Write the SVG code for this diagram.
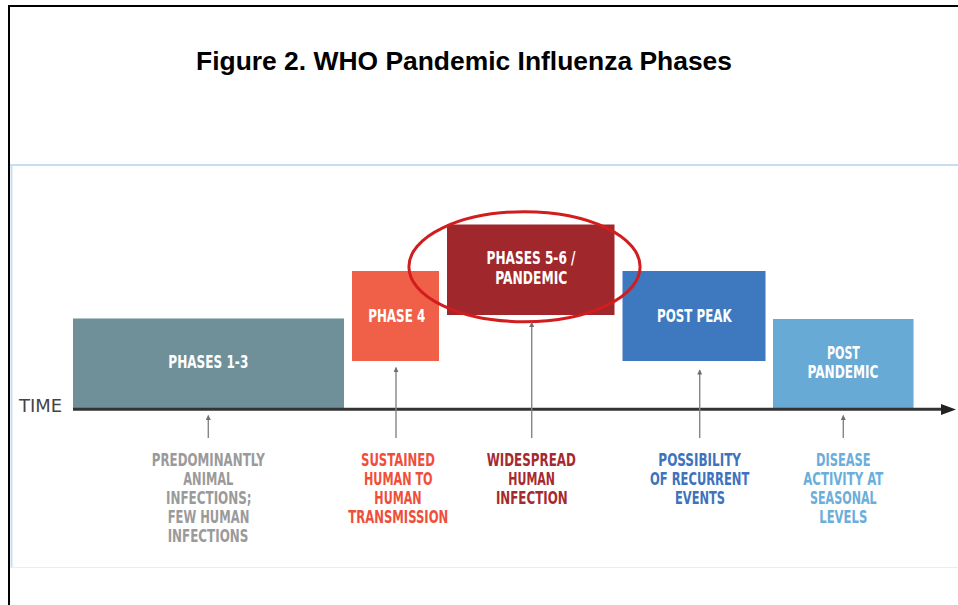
<svg xmlns="http://www.w3.org/2000/svg" width="958" height="605" viewBox="0 0 958 605">
<defs>
<style>
.lbl{font-family:"Liberation Sans Narrow","DejaVu Sans Condensed","Liberation Sans",Arial,sans-serif;font-weight:bold;fill:#fff;font-size:18.5px;text-anchor:middle}
.sub{font-family:"Liberation Sans Narrow","DejaVu Sans Condensed","Liberation Sans",Arial,sans-serif;font-weight:bold;font-size:17.5px;text-anchor:middle}
.conn{stroke:#858585;stroke-width:1.4;fill:none}
</style>
<marker id="ah" viewBox="0 0 10 10" refX="9" refY="5" markerWidth="6" markerHeight="5" markerUnits="userSpaceOnUse" orient="auto">
<path d="M0,0 L10,5 L0,10 Z" fill="#707070"/>
</marker>
</defs>
<rect x="0" y="0" width="958" height="605" fill="#fff"/>
<rect x="9" y="6" width="1000" height="700" fill="none" stroke="#000" stroke-width="2"/>
<text x="196" y="70" font-family="Liberation Sans, Arial, sans-serif" font-weight="bold" font-size="25" textLength="536" lengthAdjust="spacingAndGlyphs" fill="#000">Figure 2. WHO Pandemic Influenza Phases</text>
<g id="panel">
<line x1="10" y1="165" x2="958" y2="165" stroke="#c6def1" stroke-width="2"/>
<line x1="11.5" y1="165" x2="11.5" y2="567" stroke="#c6def1" stroke-width="2"/>
<line x1="10" y1="567.5" x2="958" y2="567.5" stroke="#e3eef7" stroke-width="1"/>
</g>
<g id="phases13">
<rect x="73" y="318.5" width="271" height="90" fill="#6f8f99"/>
<text class="lbl" x="208.3" y="367.5" textLength="80" lengthAdjust="spacingAndGlyphs">PHASES 1-3</text>
</g>
<g id="phase4">
<rect x="352" y="271" width="87" height="90" fill="#f05f48"/>
<text class="lbl" x="396.7" y="321.5" textLength="57" lengthAdjust="spacingAndGlyphs">PHASE 4</text>
</g>
<g id="phases56">
<rect x="447" y="224.5" width="167.5" height="90.5" fill="#a0282d"/>
<text class="lbl" x="531" y="264" textLength="89" lengthAdjust="spacingAndGlyphs">PHASES 5-6 /</text>
<text class="lbl" x="531.3" y="284" textLength="72" lengthAdjust="spacingAndGlyphs">PANDEMIC</text>
</g>
<g id="postpeak">
<rect x="622.5" y="271" width="143" height="90" fill="#3e78bf"/>
<text class="lbl" x="694.3" y="321.5" textLength="74.7" lengthAdjust="spacingAndGlyphs">POST PEAK</text>
</g>
<g id="postpandemic">
<rect x="773" y="319" width="140.5" height="89.5" fill="#67aad5"/>
<text class="lbl" x="843.4" y="359" textLength="33" lengthAdjust="spacingAndGlyphs">POST</text>
<text class="lbl" x="843" y="378.3" textLength="71" lengthAdjust="spacingAndGlyphs">PANDEMIC</text>
</g>
<g id="highlight">
<ellipse cx="524.5" cy="266.7" rx="115.6" ry="55" fill="none" stroke="#d21d1f" stroke-width="3"/>
</g>
<g id="timeline">
<line x1="73" y1="409.3" x2="943" y2="409.3" stroke="#333" stroke-width="3"/>
<polygon points="941,404 956,409.5 941,415" fill="#222"/>
<text x="19" y="412.3" font-family="Liberation Sans Narrow,DejaVu Sans Condensed,Liberation Sans,sans-serif" font-size="18" textLength="43" lengthAdjust="spacingAndGlyphs" fill="#444">TIME</text>
</g>
<g id="connectors">
<line class="conn" x1="208.3" y1="438" x2="208.3" y2="415.5" marker-end="url(#ah)"/>
<line class="conn" x1="396" y1="438" x2="396" y2="367.5" marker-end="url(#ah)"/>
<line class="conn" x1="531.7" y1="438" x2="531.7" y2="322.5" marker-end="url(#ah)"/>
<line class="conn" x1="699.7" y1="438" x2="699.7" y2="370" marker-end="url(#ah)"/>
<line class="conn" x1="843.3" y1="438" x2="843.3" y2="415.5" marker-end="url(#ah)"/>
</g>
<g id="desc13" fill="#9a9a9a">
<text class="sub" x="208.3" y="465.7" textLength="113" lengthAdjust="spacingAndGlyphs">PREDOMINANTLY</text>
<text class="sub" x="208.3" y="484.5" textLength="50" lengthAdjust="spacingAndGlyphs">ANIMAL</text>
<text class="sub" x="208.8" y="503.5" textLength="85.7" lengthAdjust="spacingAndGlyphs">INFECTIONS;</text>
<text class="sub" x="208.5" y="522.5" textLength="81.7" lengthAdjust="spacingAndGlyphs">FEW HUMAN</text>
<text class="sub" x="208" y="541.5" textLength="80.7" lengthAdjust="spacingAndGlyphs">INFECTIONS</text>
</g>
<g id="desc4" fill="#ef4f3a">
<text class="sub" x="398" y="465.7" textLength="74" lengthAdjust="spacingAndGlyphs">SUSTAINED</text>
<text class="sub" x="398.3" y="484.5" textLength="68.7" lengthAdjust="spacingAndGlyphs">HUMAN TO</text>
<text class="sub" x="398" y="503.5" textLength="47.3" lengthAdjust="spacingAndGlyphs">HUMAN</text>
<text class="sub" x="398.3" y="522.5" textLength="100" lengthAdjust="spacingAndGlyphs">TRANSMISSION</text>
</g>
<g id="desc56" fill="#a52a30">
<text class="sub" x="531.3" y="465.7" textLength="89.3" lengthAdjust="spacingAndGlyphs">WIDESPREAD</text>
<text class="sub" x="531.7" y="484.5" textLength="46.7" lengthAdjust="spacingAndGlyphs">HUMAN</text>
<text class="sub" x="531.8" y="503.5" textLength="71.7" lengthAdjust="spacingAndGlyphs">INFECTION</text>
</g>
<g id="descpeak" fill="#3d73bd">
<text class="sub" x="699.7" y="465.7" textLength="82.7" lengthAdjust="spacingAndGlyphs">POSSIBILITY</text>
<text class="sub" x="699.7" y="484.5" textLength="99.3" lengthAdjust="spacingAndGlyphs">OF RECURRENT</text>
<text class="sub" x="700" y="503.5" textLength="50" lengthAdjust="spacingAndGlyphs">EVENTS</text>
</g>
<g id="descpost" fill="#6aaedb">
<text class="sub" x="843.3" y="465.7" textLength="54.7" lengthAdjust="spacingAndGlyphs">DISEASE</text>
<text class="sub" x="843.3" y="484.5" textLength="80" lengthAdjust="spacingAndGlyphs">ACTIVITY AT</text>
<text class="sub" x="843.3" y="503.5" textLength="66.7" lengthAdjust="spacingAndGlyphs">SEASONAL</text>
<text class="sub" x="843.3" y="522.5" textLength="48" lengthAdjust="spacingAndGlyphs">LEVELS</text>
</g>
</svg>
